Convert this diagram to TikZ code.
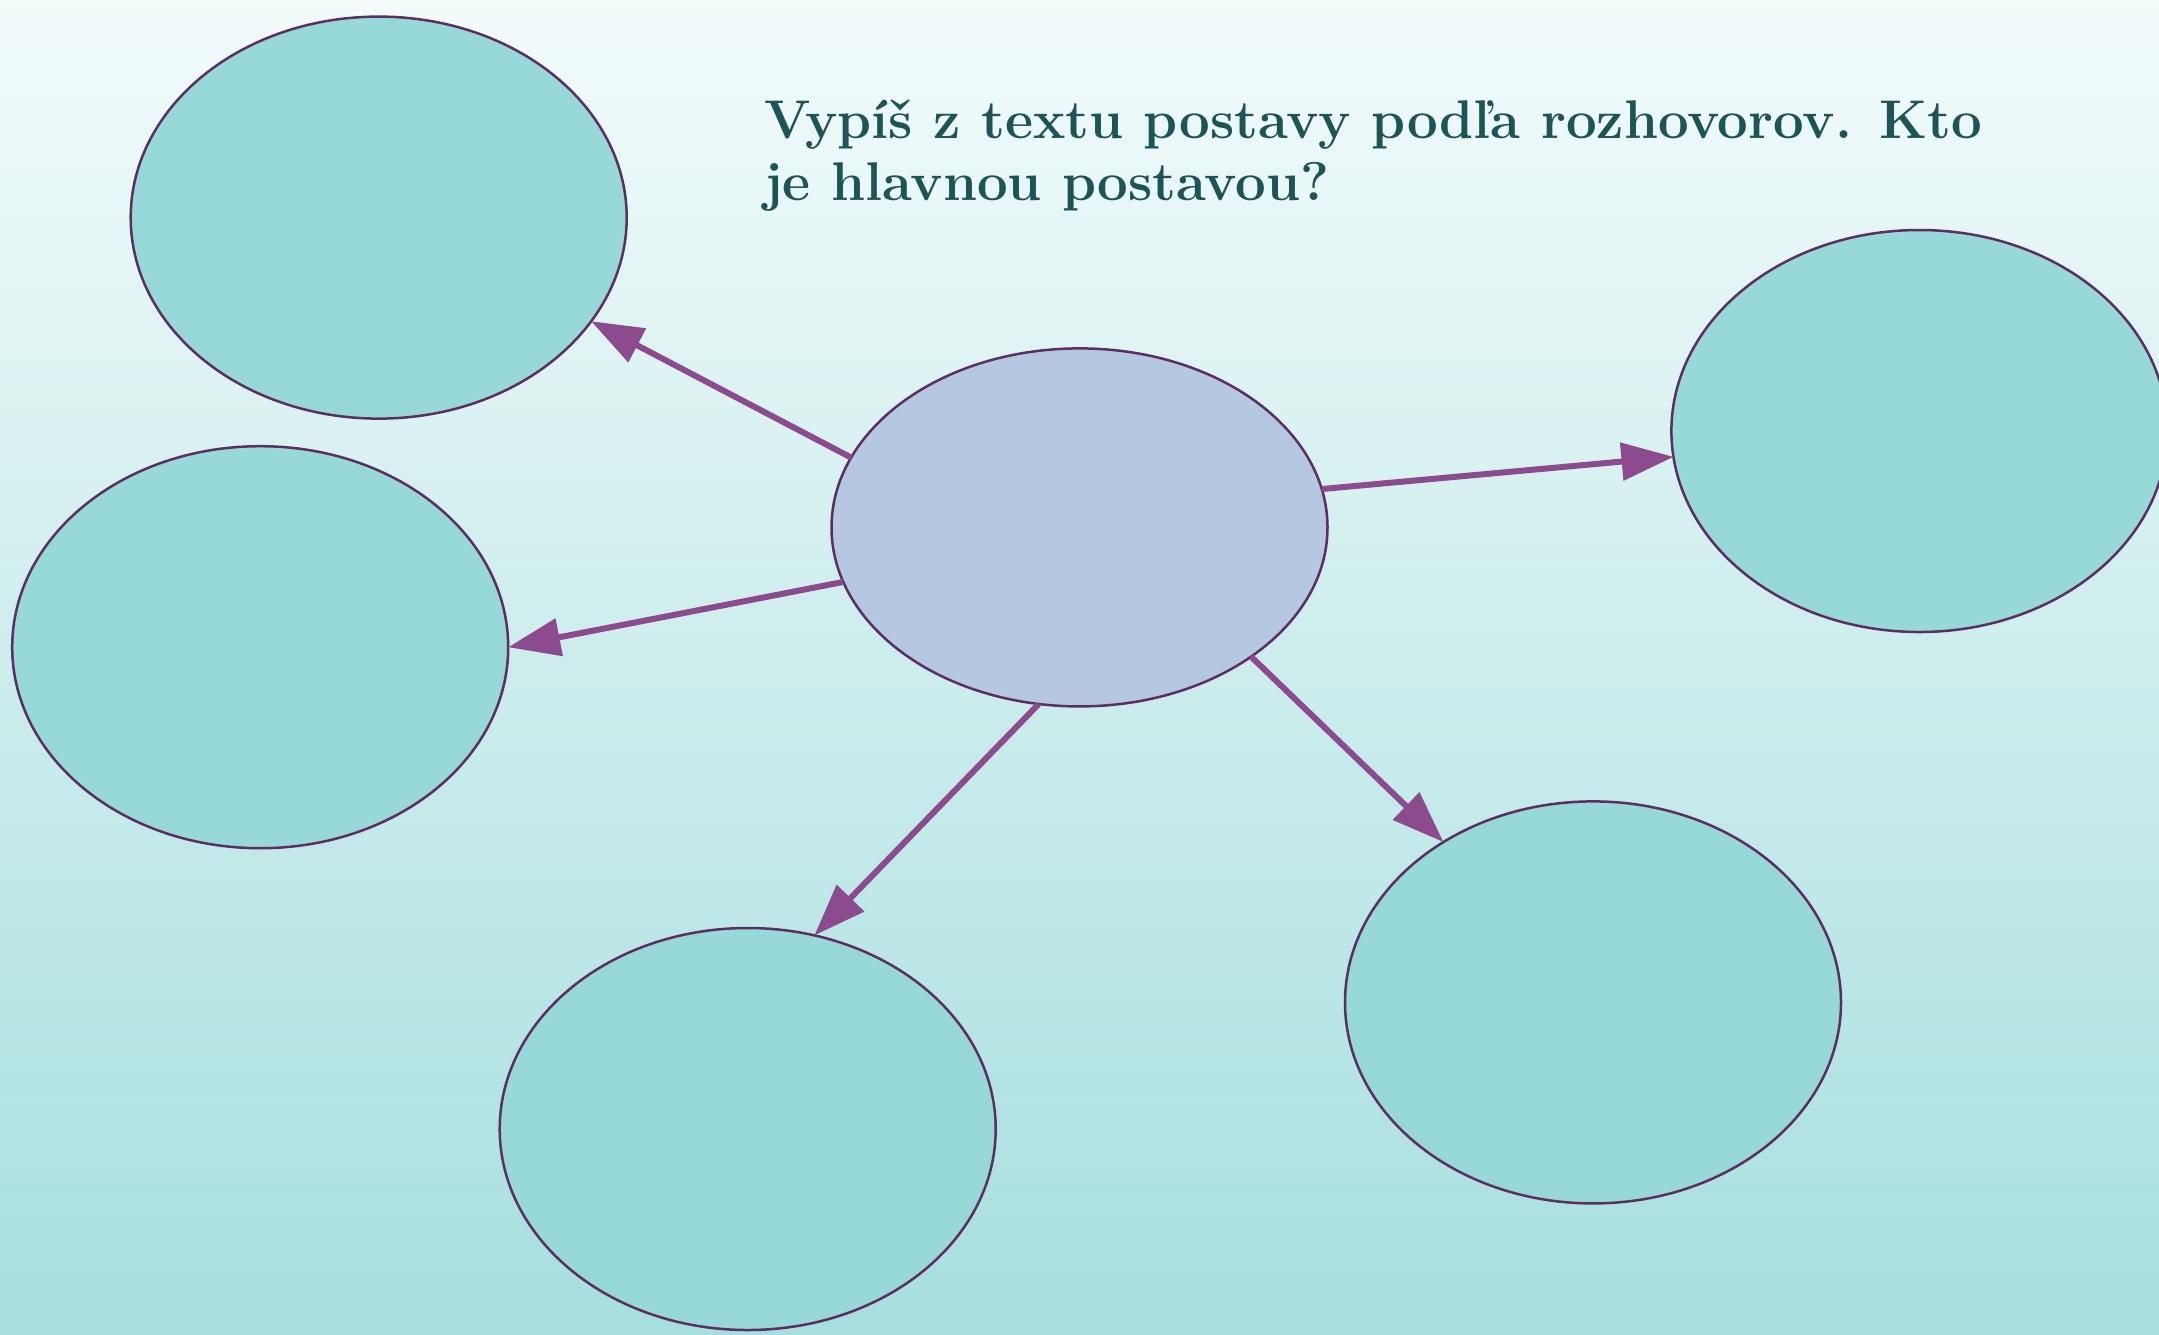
\documentclass[tikz,border=0pt]{standalone}
\usepackage{fontspec}
\usetikzlibrary{shapes.geometric,arrows.meta}
\definecolor{bgtop}{RGB}{243,251,251}
\definecolor{bgbot}{RGB}{166,223,222}
\definecolor{tealfill}{RGB}{150,217,216}
\definecolor{bluefill}{RGB}{180,200,225}
\definecolor{rimcol}{RGB}{94,45,98}
\definecolor{arrcol}{RGB}{139,75,142}
\definecolor{titlecol}{RGB}{29,85,86}
\tikzset{
  bubble/.style={ellipse, draw=rimcol, line width=2.5pt, fill=tealfill,
    minimum width=496pt, minimum height=402pt, inner sep=0pt, outer sep=0pt},
  hub/.style={bubble, fill=bluefill, minimum height=358pt},
  link/.style={draw=arrcol, line width=6pt, -{Triangle[length=52pt,width=37pt]}}
}
\begin{document}
\begin{tikzpicture}[x=1pt,y=1pt]
\useasboundingbox (0,0) rectangle (2159,-1334);
\clip (0,0) rectangle (2159,-1334);
\shade[top color=bgtop, bottom color=bgbot] (0,0) rectangle (2159,-1334);
\node[hub] (c) at (1079.5,-527.4) {};
\node[bubble] (tl) at (378.7,-217.6) {};
\node[bubble] (l) at (260.2,-647.2) {};
\node[bubble] (b) at (747.7,-1129) {};
\node[bubble] (br) at (1593,-1002.4) {};
\node[bubble] (r) at (1919.4,-431) {};
\draw[link] (c.163) -- (tl.-26.7);
\draw[link] (c.193.5) -- (l.east);
\draw[link] (c.9.6) -- (r.186.65);
\draw[link] (c.257.1) -- (b.71.4);
\draw[link] (c.-37.5) -- (br.133.9);
\node[anchor=north west, inner sep=0pt, align=left, text=titlecol,
  font=\fontsize{54.5}{62}\selectfont\bfseries] (title) at (764,-100)
  {Vypíš z textu postavy podľa rozhovorov. Kto\\je hlavnou postavou?};
\end{tikzpicture}
\end{document}
